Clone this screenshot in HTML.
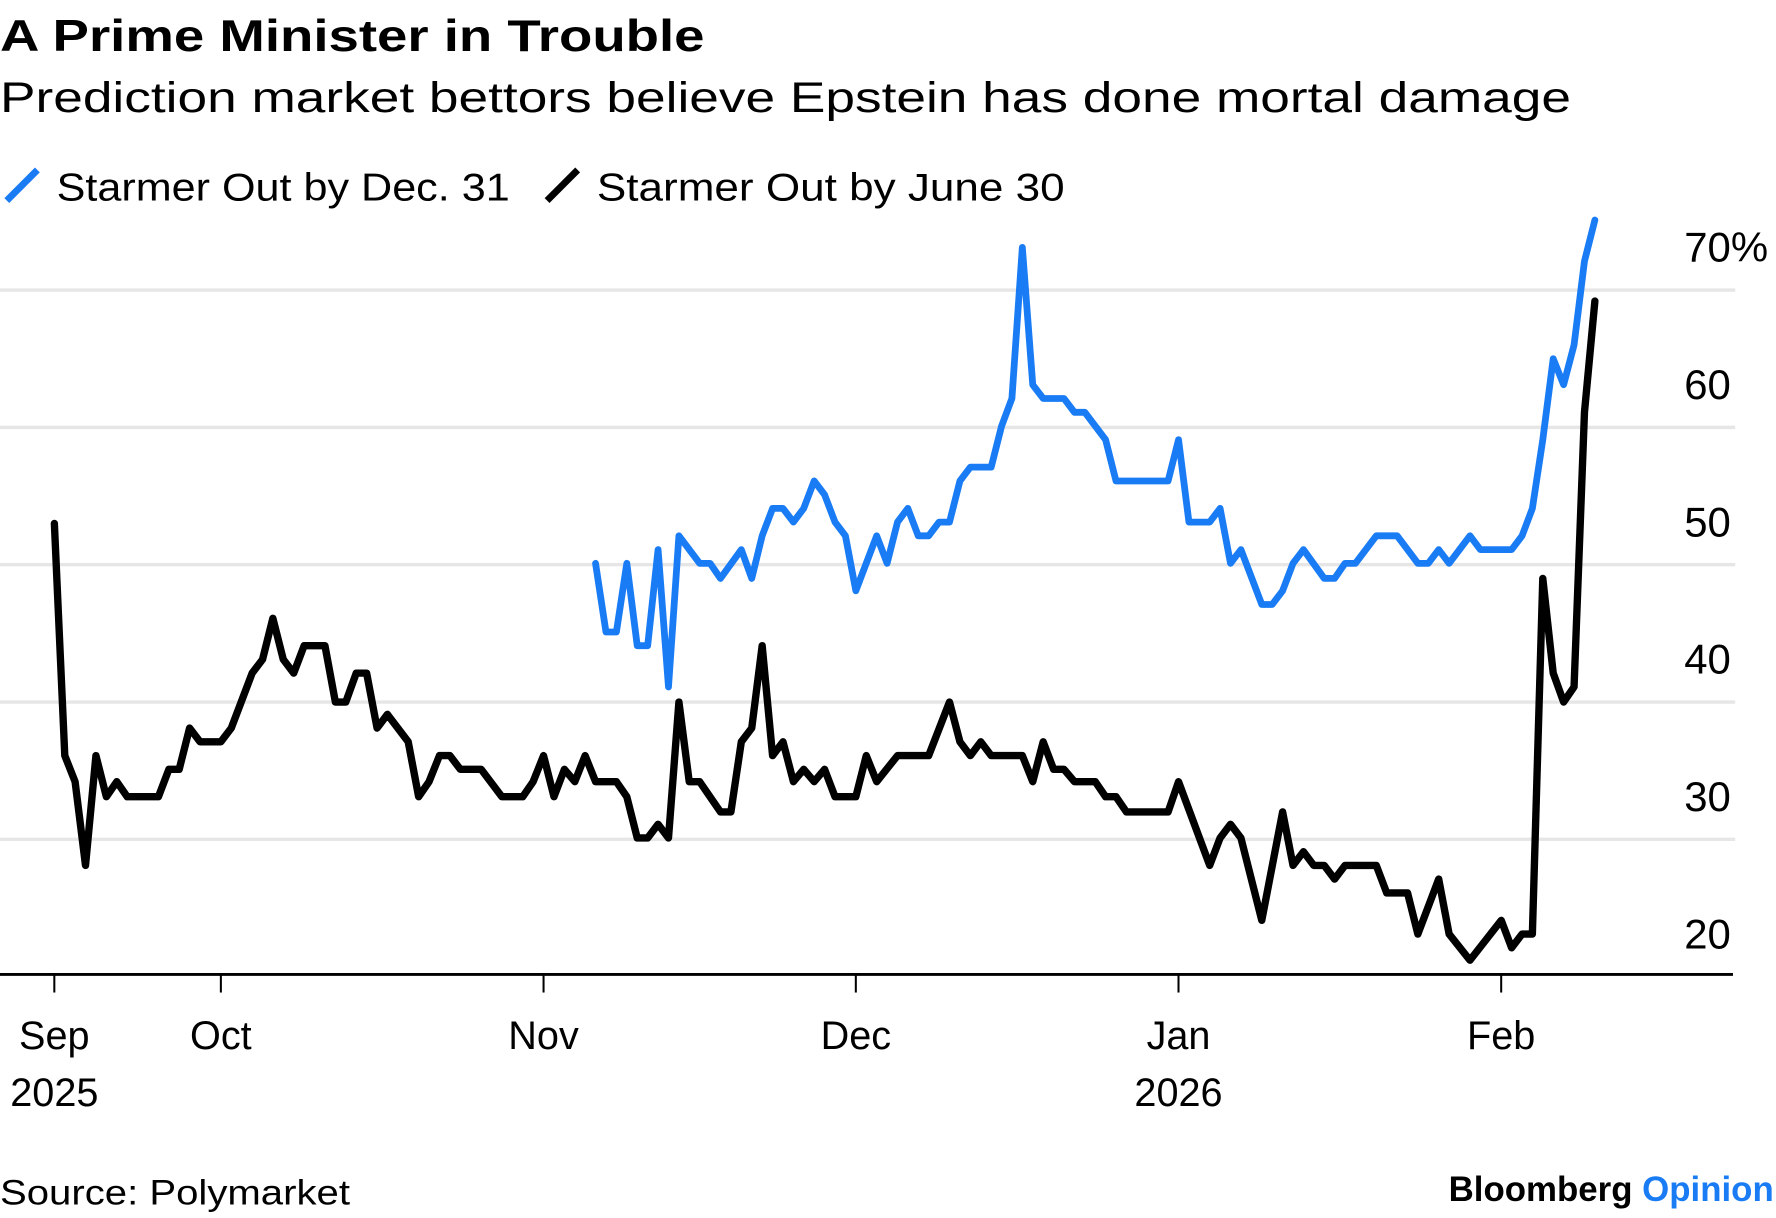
<!DOCTYPE html>
<html><head><meta charset="utf-8"><style>
html,body{margin:0;padding:0;background:#fff;}
svg{display:block;font-family:"Liberation Sans",sans-serif;}
</style></head><body>
<svg id="chart" width="1776" height="1218" viewBox="0 0 1568 1075" preserveAspectRatio="none" xmlns="http://www.w3.org/2000/svg">
<text x="0" y="45" font-size="39" font-weight="bold" textLength="622" lengthAdjust="spacingAndGlyphs">A Prime Minister in Trouble</text>
<text x="0" y="99" font-size="38" textLength="1387" lengthAdjust="spacingAndGlyphs">Prediction market bettors believe Epstein has done mortal damage</text>
<g>
<g><line x1="6" y1="177" x2="33" y2="150" stroke="#1a7cf5" stroke-width="6"/><text x="50" y="177" font-size="34" textLength="400" lengthAdjust="spacingAndGlyphs">Starmer Out by Dec. 31</text></g>
<g><line x1="483" y1="177" x2="510" y2="150" stroke="#000" stroke-width="6"/><text x="527" y="177" font-size="34" textLength="413" lengthAdjust="spacingAndGlyphs">Starmer Out by June 30</text></g>
</g>
<g id="grid"></g>
<g id="ylabels"></g>
<g id="xaxis"></g>
<g id="series"></g>
<text x="0" y="1063" font-size="31" textLength="309" lengthAdjust="spacingAndGlyphs">Source: Polymarket</text>
<text x="1566" y="1060" font-size="31" font-weight="bold" text-anchor="end" textLength="287" lengthAdjust="spacingAndGlyphs">Bloomberg <tspan fill="#1a7cf5">Opinion</tspan></text>
</svg>
<script>
// Days are offsets from Oct 1 2025
const yTicks = [20, 30, 40, 50, 60, 70];
const yTickLabels = ["20", "30", "40", "50", "60", "70%"];
const monthDays = [-16, 0, 31, 61, 92, 123];
const monthLabels = ["Sep", "Oct", "Nov", "Dec", "Jan", "Feb"];
const yearLabels = ["2025", "", "", "", "2026", ""];
const juneDays = [-16,-15,-14,-13,-12,-11,-10,-9,-6,-5,-4,-3,-2,0,1,3,4,5,6,7,8,10,11,12,13,14,15,16,18,19,20,21,22,23,25,27,29,30,31,32,33,34,35,36,38,39,40,41,42,43,44,45,46,48,49,50,51,52,53,54,55,56,57,58,59,61,62,63,65,68,70,71,72,73,74,77,78,79,80,81,82,84,85,86,87,91,92,95,96,97,98,100,102,103,104,105,106,107,108,111,112,114,115,117,118,120,123,124,125,126,127,128,129,130,131,132];
const juneValues = [53,36.1,34.2,28.1,36.1,33.1,34.2,33.1,33.1,35.1,35.1,38.1,37.1,37.1,38.1,42.1,43.1,46.1,43.1,42.1,44.1,44.1,40,40,42.1,42.1,38.1,39.1,37.1,33.1,34.2,36.1,36.1,35.1,35.1,33.1,33.1,34.2,36.1,33.1,35.1,34.2,36.1,34.2,34.2,33.1,30.1,30.1,31.1,30.1,40,34.2,34.2,32,32,37.1,38.1,44.1,36.1,37.1,34.2,35.1,34.2,35.1,33.1,33.1,36.1,34.2,36.1,36.1,40,37.1,36.1,37.1,36.1,36.1,34.2,37.1,35.1,35.1,34.2,34.2,33.1,33.1,32,32,34.2,28.1,30.1,31.1,30.1,24.1,32,28.1,29.1,28.1,28.1,27.1,28.1,28.1,26.1,26.1,23.1,27.1,23.1,21.2,24.1,22.1,23.1,23.1,49,42.1,40,41.1,61.1,69.2];
const decDays = [36,37,38,39,40,41,42,43,44,46,47,48,50,51,52,53,54,55,56,57,58,59,60,61,63,64,65,66,67,68,69,70,71,72,74,75,76,77,78,79,81,82,83,85,86,91,92,93,95,96,97,98,100,101,102,103,104,106,107,108,109,111,113,115,116,117,118,120,121,124,125,126,127,128,129,130,131,132];
const decValues = [50.1,45.1,45.1,50.1,44.1,44.1,51.1,41.1,52.1,50.1,50.1,49,51.1,49,52.1,54.1,54.1,53.1,54.1,56.1,55.1,53.1,52.1,48.1,52.1,50.1,53.1,54.1,52.1,52.1,53.1,53.1,56.1,57.1,57.1,60.1,62.1,73.1,63.1,62.1,62.1,61.1,61.1,59.1,56.1,56.1,59.1,53.1,53.1,54.1,50.1,51.1,47.1,47.1,48.1,50.1,51.1,49,49,50.1,50.1,52.1,52.1,50.1,50.1,51.1,50.1,52.1,51.1,51.1,52.1,54.1,59.1,65,63.1,66,72.1,75.1];

const NS = "http://www.w3.org/2000/svg";
const xScale = d => 195 + d * 9.19;
const yScale = v => 256 + (70 - v) * 12.12;
const mk = (tag, attrs) => { const e = document.createElementNS(NS, tag); for (const k in attrs) e.setAttribute(k, attrs[k]); return e; };

const grid = document.getElementById('grid');
const ylab = document.getElementById('ylabels');
yTicks.forEach((v, i) => {
  if (v > 20) {
    const l = mk('line', {x1: 0, x2: 1532, y1: yScale(v), y2: yScale(v), stroke: '#e6e6e6', 'stroke-width': 3});
    
    
    grid.appendChild(l);
  }
  const t = mk('text', {x: 1487, y: yScale(v) - 25, 'font-size': 37});
  t.textContent = yTickLabels[i];
  
  
  ylab.appendChild(t);
});

const xa = document.getElementById('xaxis');
const axl = mk('line', {x1: 0, x2: 1530, y1: 860, y2: 860, stroke: '#000', 'stroke-width': 2.5});


xa.appendChild(axl);
monthDays.forEach((d, i) => {
  const x = xScale(d);
  const tk = mk('line', {x1: x, x2: x, y1: 860, y2: 876, stroke: '#000', 'stroke-width': 1.8});
  
  
  xa.appendChild(tk);
  const t = mk('text', {x: x, y: 926, 'font-size': 35, 'text-anchor': 'middle'});
  t.textContent = monthLabels[i];
  
  
  xa.appendChild(t);
  if (yearLabels[i]) {
    const y = mk('text', {x: x, y: 976, 'font-size': 35, 'text-anchor': 'middle'});
    y.textContent = yearLabels[i];
    
    
    xa.appendChild(y);
  }
});

const ser = document.getElementById('series');
function line(days, vals, color, w, name) {
  const pts = days.map((d, i) => xScale(d).toFixed(1) + ',' + yScale(vals[i]).toFixed(1)).join(' ');
  const p = mk('polyline', {points: pts, fill: 'none', stroke: color, 'stroke-width': w, 'stroke-linejoin': 'round', 'stroke-linecap': 'round'});
  
  
  ser.appendChild(p);
}
line(decDays, decValues, '#1a7cf5', 6, 'line-starmer-out-dec31');
line(juneDays, juneValues, '#000', 6.5, 'line-starmer-out-june30');
</script>
</body></html>
